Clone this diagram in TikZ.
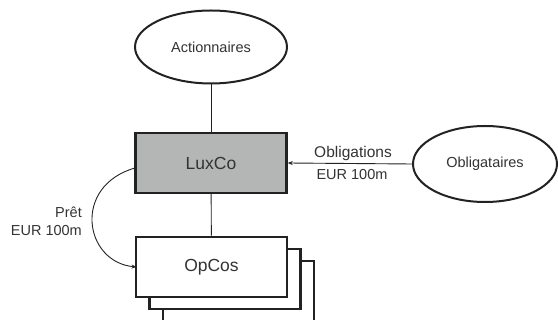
\documentclass[tikz,border=0pt]{standalone}
\usepackage{fontspec}
\setmainfont{Liberation Sans}
\usetikzlibrary{shapes.geometric,arrows.meta}
\definecolor{ink}{HTML}{222222}
\definecolor{txt}{HTML}{333333}
\definecolor{boxgray}{HTML}{B4B6B6}
\tikzset{
  party/.style={ellipse,draw=ink,line width=2pt,fill=white,inner sep=0pt,
    minimum width=152pt,minimum height=73pt,text=txt,font=\fontsize{14.5}{16}\selectfont},
  entity/.style={rectangle,draw=ink,line width=2.5pt,inner sep=0pt,
    minimum width=151pt,minimum height=60pt,text=txt,font=\fontsize{17.5}{20}\selectfont},
  link/.style={draw=ink,line width=0.9pt},
  flow/.style={link,-{Stealth[length=5pt,width=4pt]}},
  note/.style={text=txt,font=\fontsize{14.5}{17}\selectfont,inner sep=0pt}
}
\begin{document}
\begin{tikzpicture}[x=1pt,y=-1pt]
\useasboundingbox (0,0) rectangle (558,320);
\begin{scope}
\clip (0,0) rectangle (558,320);
% stacked operating companies, back to front
\node[entity,fill=white] (opc3) at (238.5,291) {};
\node[entity,fill=white] (opc2) at (225,279) {};
\node[entity,fill=white] (opcos) at (211.5,267) {OpCos};
\end{scope}
\node[party] (act) at (211,47) {Actionnaires};
\node[entity,fill=boxgray] (lux) at (211,163) {LuxCo};
\node[party,minimum width=144pt,minimum height=76pt] (obl) at (485,164) {Obligataires};
\coordinate (luxin) at (135,168);
\coordinate (opin) at (136.5,267);
\draw[link] (act) -- (lux);
\draw[link] (lux) -- (opcos);
\draw[flow] (obl.west) -- (lux.east);
\node[note,font=\fontsize{15.5}{17}\selectfont] (bondtxt) at (353,153) {Obligations};
\node[note] (bondamt) at (352,175) {EUR 100m};
\draw[flow] (luxin) .. controls (72,186) and (84,262) .. (opin);
\node[note,anchor=east] (pret) at (82,212) {Prêt};
\node[note,anchor=east] (pretamt) at (82,231) {EUR 100m};
\end{tikzpicture}
\end{document}
